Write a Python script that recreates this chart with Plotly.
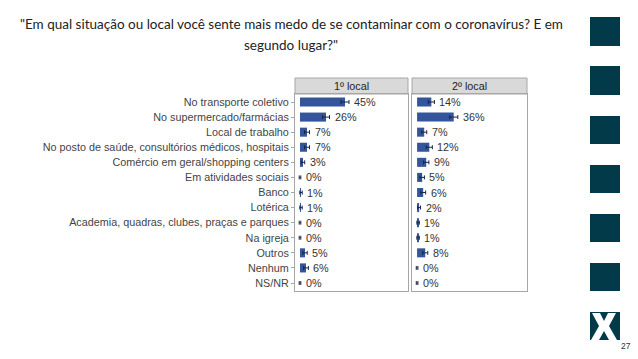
import plotly.graph_objects as go

categories = ["No transporte coletivo", "No supermercado/farmácias", "Local de trabalho",
              "No posto de saúde, consultórios médicos, hospitais", "Comércio em geral/shopping centers",
              "Em atividades sociais", "Banco", "Lotérica", "Academia, quadras, clubes, praças e parques",
              "Na igreja", "Outros", "Nenhum", "NS/NR"]
first_local = [45, 26, 7, 7, 3, 0, 1, 1, 0, 0, 5, 6, 0]
second_local = [14, 36, 7, 12, 9, 5, 6, 2, 1, 1, 8, 0, 0]
first_err = [4, 3.5, 2.5, 2.5, 1.7, 0.8, 1.2, 1.2, 0.8, 0.8, 2.2, 2.4, 0.8]
second_err = [3, 4, 2.5, 3, 2.6, 2.2, 2.4, 1.4, 1.2, 1.2, 2.5, 0.8, 0.8]
panel_titles = ["1º local", "2º local"]
title_lines = ['"Em qual situação ou local você sente mais medo de se contaminar com o coronavírus? E em',
               'segundo lugar?"']
page_number = "27"

W, H = 638, 359
BAR = "#34559c"
DARK = "#023a4a"
FONT = "Liberation Sans, Arial"

fig = go.Figure()
for i, (vals, errs) in enumerate([(first_local, first_err), (second_local, second_err)]):
    xa = "x" if i == 0 else "x2"
    ya = "y" if i == 0 else "y2"
    fig.add_trace(go.Bar(
        x=vals, y=categories, orientation="h", xaxis=xa, yaxis=ya,
        marker=dict(color=BAR, line=dict(width=0)), width=0.6,
        error_x=dict(type="data", array=errs, color="#1a2540", thickness=1, width=2),
        hoverinfo="skip", showlegend=False))
    for c, v, e in zip(categories, vals, errs):
        fig.add_annotation(x=v + e, y=c, xref=xa, yref=ya, text=f"{v}%", showarrow=False,
                           xanchor="left", yanchor="middle", xshift=3,
                           font=dict(family=FONT, size=10.8, color="#333333"))

px = lambda x: x / W
py = lambda y: 1 - y / H

p1 = (295, 408)
p2 = (412, 527)
top, bot, head = 94, 291, 78

axis_common = dict(range=[-5, 108], showgrid=False, zeroline=False, showticklabels=False,
                   showline=True, mirror=True, linecolor="#a6a6a6", linewidth=1, fixedrange=True)
fig.update_layout(
    width=W, height=H, margin=dict(l=0, r=0, t=0, b=0),
    paper_bgcolor="white", plot_bgcolor="white", bargap=0.4,
    xaxis=dict(domain=[px(p1[0]), px(p1[1])], anchor="y", **axis_common),
    xaxis2=dict(domain=[px(p2[0]), px(p2[1])], anchor="y2", **axis_common),
    yaxis=dict(domain=[py(bot), py(top)], anchor="x", autorange="reversed", showgrid=False,
               ticks="outside", ticklen=3, tickcolor="#a6a6a6", showline=True, mirror=True,
               linecolor="#a6a6a6", tickfont=dict(family=FONT, size=10.8, color="#444444")),
    yaxis2=dict(domain=[py(bot), py(top)], anchor="x2", autorange="reversed", showgrid=False,
                showticklabels=False, showline=True, mirror=True, linecolor="#a6a6a6"),
)

shapes = []
for (a, b), t in zip([p1, p2], panel_titles):
    shapes.append(dict(type="rect", xref="paper", yref="paper", x0=px(a), x1=px(b), y0=py(top), y1=py(head),
                       fillcolor="#d9d9d9", line=dict(color="#a6a6a6", width=1), layer="below"))
    fig.add_annotation(x=px((a + b) / 2), y=py((top + head) / 2), xref="paper", yref="paper", text=t,
                       showarrow=False, xanchor="center", yanchor="middle",
                       font=dict(family=FONT, size=10.8, color="#222222"))

sq = [(17, 46), (66, 95), (116, 144), (165, 193), (214, 242), (263, 291), (312, 340)]
for y0, y1 in sq:
    shapes.append(dict(type="rect", xref="paper", yref="paper", x0=px(590), x1=px(620), y0=py(y1), y1=py(y0),
                       fillcolor=DARK, line=dict(width=0)))
# white X in logo
def P(x, y):
    return f"{px(x)},{py(y)}"
xpath = ("M " + P(592, 313) + " L " + P(600, 313) + " L " + P(604, 321) + " L " + P(608, 313) + " L " + P(616, 313)
         + " L " + P(609, 326) + " L " + P(617, 340) + " L " + P(609, 340) + " L " + P(604, 331) + " L " + P(599, 340)
         + " L " + P(591, 340) + " L " + P(599, 326) + " Z")
shapes.append(dict(type="path", xref="paper", yref="paper", path=xpath, fillcolor="white", line=dict(width=0)))
fig.update_layout(shapes=shapes)

fig.add_annotation(x=px(626), y=py(346), xref="paper", yref="paper", text=page_number, showarrow=False,
                   xanchor="center", yanchor="middle",
                   font=dict(family=FONT, size=8.5, color="#333333"))
for t, yy in zip(title_lines, [24, 45]):
    fig.add_annotation(x=px(291), y=py(yy), xref="paper", yref="paper", text=t, showarrow=False,
                       xanchor="center", yanchor="middle",
                       font=dict(family="Lato", size=13.5, color="#222222"))

fig.write_html("out.html", config={"displayModeBar": False},
               post_script="document.body.style.margin='0';document.body.style.overflow='hidden';")
